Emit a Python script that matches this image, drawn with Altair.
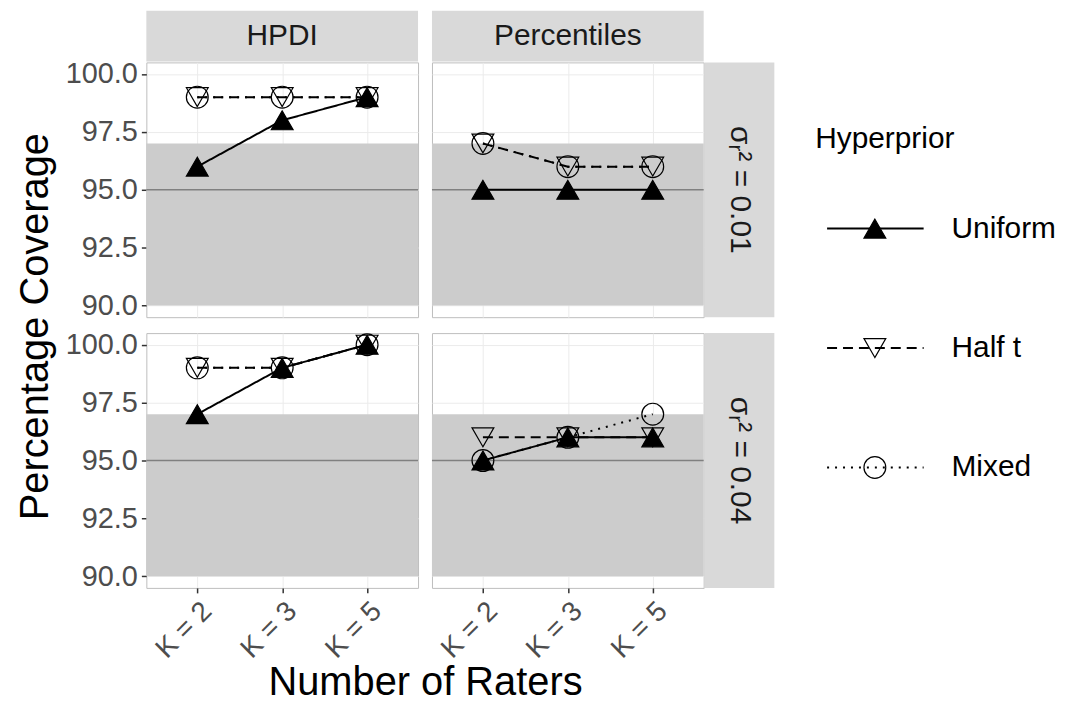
import altair as alt
import pandas as pd

raters = ["K = 2", "K = 3", "K = 5"]
methods = ["HPDI", "Percentiles"]
variances = ["σᵣ² = 0.01", "σᵣ² = 0.04"]
series = ["Uniform", "Half t", "Mixed"]

# Percentage coverage
hpdi_001_uniform = [96, 98, 99]
hpdi_001_halft = [99, 99, 99]
hpdi_001_mixed = [99, 99, 99]
perc_001_uniform = [95, 95, 95]
perc_001_halft = [97, 96, 96]
perc_001_mixed = [97, 96, 96]
hpdi_004_uniform = [97, 99, 100]
hpdi_004_halft = [99, 99, 100]
hpdi_004_mixed = [99, 99, 100]
perc_004_uniform = [95, 96, 96]
perc_004_halft = [96, 96, 96]
perc_004_mixed = [95, 96, 97]

band_low, band_high, ref_line = 90, 97, 95

table = [
    (variances[0], methods[0], "Mixed", hpdi_001_mixed),
    (variances[0], methods[0], "Half t", hpdi_001_halft),
    (variances[0], methods[0], "Uniform", hpdi_001_uniform),
    (variances[0], methods[1], "Mixed", perc_001_mixed),
    (variances[0], methods[1], "Half t", perc_001_halft),
    (variances[0], methods[1], "Uniform", perc_001_uniform),
    (variances[1], methods[0], "Mixed", hpdi_004_mixed),
    (variances[1], methods[0], "Half t", hpdi_004_halft),
    (variances[1], methods[0], "Uniform", hpdi_004_uniform),
    (variances[1], methods[1], "Mixed", perc_004_mixed),
    (variances[1], methods[1], "Half t", perc_004_halft),
    (variances[1], methods[1], "Uniform", perc_004_uniform),
]
rows = []
for var, meth, ser, vals in table:
    for k, v in zip(raters, vals):
        rows.append({"variance": var, "method": meth, "series": ser, "raters": k, "coverage": v})
df = pd.DataFrame(rows)

W, H = 273, 256
FONT = "Liberation Sans"

yscale = alt.Scale(domain=[89.5, 100.5], nice=False, zero=False)
xscale = alt.Scale(type="point", domain=raters, padding=0.6)
dash_scale = alt.Scale(domain=series, range=[[1, 0], [10, 6], [2, 6]])
shape_scale = alt.Scale(domain=series, range=["triangle-up", "triangle-down", "circle"])
fill_scale = alt.Scale(domain=series, range=["#000000", "rgba(0,0,0,0)", "rgba(0,0,0,0)"])
size_scale = alt.Scale(domain=series, range=[480, 480, 200])


def panel(var, meth, show_y, show_x, top_strip, right_strip):
    d = df[(df.variance == var) & (df.method == meth)]
    one = pd.DataFrame({"method": [meth], "variance": [var]})
    is_left = meth == methods[0]

    if show_y:
        yaxis = alt.Axis(values=[90, 92.5, 95, 97.5, 100], format=".1f", grid=True,
                         title="Percentage Coverage" if var == variances[0] else None,
                         titleX=-111, titleY=265, titleAngle=270, titleAlign="center",
                         titleBaseline="middle")
    else:
        yaxis = alt.Axis(values=[90, 92.5, 95, 97.5, 100], labels=False, ticks=False,
                         grid=True, title=None)
    if show_x:
        xaxis = alt.Axis(labelAngle=315, grid=True,
                         title="Number of Raters" if is_left else None,
                         titleX=280, titleY=95, titleAlign="center", titleBaseline="middle")
    else:
        xaxis = alt.Axis(labels=False, ticks=False, grid=True, title=None)

    def Y(**kw):
        return alt.Y(scale=yscale, axis=yaxis, type="quantitative", **kw)

    X = alt.X("raters:N", scale=xscale, axis=xaxis, sort=raters)

    band = alt.Chart(one).mark_rect(color="#CCCCCC").encode(
        x=alt.value(0), x2=alt.value(W), y=Y(datum=band_low), y2=alt.Y2(datum=band_high)
    )
    rule = alt.Chart(one).mark_rule(color="#808080", strokeWidth=1.5).encode(y=Y(datum=ref_line))
    layers = [band, rule]
    for ser in ["Mixed", "Half t", "Uniform"]:
        layers.append(alt.Chart(d[d.series == ser]).mark_line(color="#000000", strokeWidth=2).encode(
            x=X, y=Y(field="coverage"),
            strokeDash=alt.StrokeDash("series:N", scale=dash_scale, legend=None),
        ))
    points = alt.Chart(d).mark_point(opacity=1, stroke="#000000", strokeWidth=1.2).encode(
        x=X,
        y=Y(field="coverage"),
        shape=alt.Shape("series:N", scale=shape_scale, legend=None),
        fill=alt.Fill("series:N", scale=fill_scale, legend=None),
        size=alt.Size("series:N", scale=size_scale, legend=None),
    )
    layers.append(points)
    if top_strip:
        layers.append(alt.Chart(one).mark_rect(color="#D9D9D9", clip=False).encode(
            x=alt.value(0), x2=alt.value(W), y=alt.value(-52), y2=alt.value(-1)))
        layers.append(alt.Chart(one).mark_text(fontSize=30, color="#1A1A1A", font=FONT,
                                               baseline="middle", clip=False).encode(
            x=alt.value(W / 2), y=alt.value(-26), text="method:N"))
    if right_strip:
        layers.append(alt.Chart(one).mark_rect(color="#D9D9D9", clip=False).encode(
            x=alt.value(W + 1), x2=alt.value(W + 71), y=alt.value(0), y2=alt.value(H)))
        layers.append(alt.Chart(one).mark_text(fontSize=30, color="#1A1A1A", font=FONT,
                                               angle=90, baseline="middle", clip=False).encode(
            x=alt.value(W + 36), y=alt.value(H / 2), text="variance:N"))
    return alt.layer(*layers).properties(width=W, height=H)


p11 = panel(variances[0], methods[0], True, False, True, False)
p12 = panel(variances[0], methods[1], False, False, True, True)
p21 = panel(variances[1], methods[0], True, True, False, False)
p22 = panel(variances[1], methods[1], False, True, False, True)

# Legend drawn from the series list
leg_df = pd.DataFrame({"series": series, "idx": list(range(len(series)))})
leg_title = pd.DataFrame({"t": ["Hyperprior"]})
ly = alt.Y("idx:Q", scale=alt.Scale(domain=[0, 2], range=[167, 407]), axis=None)
leg_rule = alt.Chart(leg_df).mark_rule(color="#000000", strokeWidth=2).encode(
    x=alt.value(110), x2=alt.value(207), y=ly,
    strokeDash=alt.StrokeDash("series:N", scale=dash_scale, legend=None))
leg_pts = alt.Chart(leg_df).mark_point(opacity=1, stroke="#000000", strokeWidth=1.2).encode(
    x=alt.value(158), y=ly,
    shape=alt.Shape("series:N", scale=shape_scale, legend=None),
    fill=alt.Fill("series:N", scale=fill_scale, legend=None),
    size=alt.Size("series:N", scale=size_scale, legend=None))
leg_txt = alt.Chart(leg_df).mark_text(fontSize=30, align="left", baseline="middle",
                                      font=FONT, color="#000000").encode(
    x=alt.value(235), y=ly, text="series:N")
leg_ttl = alt.Chart(leg_title).mark_text(fontSize=30, align="left", baseline="middle",
                                         font=FONT, color="#000000").encode(
    x=alt.value(98), y=alt.value(77), text="t:N")
legend = alt.layer(leg_rule, leg_pts, leg_txt, leg_ttl).properties(
    width=300, height=H, view=alt.ViewBackground(stroke=None))

chart = alt.concat(p11, p12, legend, p21, p22, columns=3,
                   spacing={"row": 16, "column": 14}, bounds="flush").properties(
    padding={"left": 7, "top": 0, "right": 0, "bottom": 0}
).configure(font=FONT).configure_view(
    stroke="#BDBDBD", strokeWidth=1
).configure_axis(
    labelColor="#4D4D4D", labelFontSize=29, labelFont=FONT, tickColor="#333333",
    tickSize=5, tickWidth=1.5, domain=False, gridColor="#EBEBEB", gridWidth=1,
    titleFontSize=40, titleFont=FONT, titleFontWeight="normal", titleColor="#000000",
    labelPadding=4,
).configure_axisX(labelFontSize=28)

chart.save("out.html", embed_options={"renderer": "svg", "actions": False})
